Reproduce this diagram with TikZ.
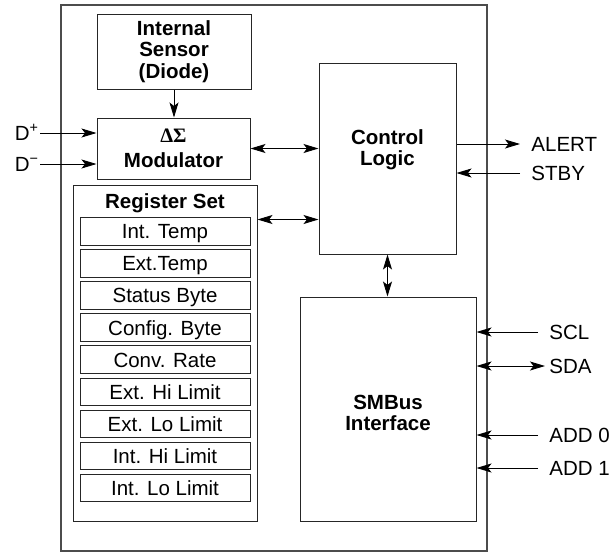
\documentclass[tikz,border=0pt]{standalone}
\usepackage{fontspec}
\setmainfont{Liberation Sans}
\newfontfamily\deltafont{Liberation Serif}
\usetikzlibrary{positioning,arrows.meta}
\newcommand\sigfont{\fontsize{20.5}{21.5}\selectfont}
\tikzset{
  block/.style={draw=black!85, line width=1pt, font=\sigfont\bfseries, align=center, inner sep=0pt},
  regbox/.style={draw=black!85, line width=1pt, minimum width=170pt, minimum height=27.5pt, inner sep=0pt, text height=14.7pt, text depth=0pt},
  sig/.style={font=\sigfont, inner ysep=0pt, inner xsep=11pt, text height=14.7pt, text depth=0pt},
  >={Stealth[length=15pt,width=9pt,inset=3.5pt]}
}
\begin{document}
\begin{tikzpicture}[x=1pt, y=-1pt, line width=0.9pt, font=\sigfont]
            \useasboundingbox (0,0) rectangle (614,552);
            \node[draw=black!70, line width=1.3pt, minimum width=426pt, minimum height=546pt, inner sep=0pt] (chip) at (274,278) {};

            \node[block, minimum width=154pt, minimum height=75pt] (sensor) at (174,51.5) {Internal\\Sensor\\(Diode)};
            \node[block, minimum width=153pt, minimum height=61pt] (mod) at (173.5,148.5) {{\deltafont\bfseries ΔΣ}\\[4pt]Modulator};
            \node[block, minimum width=137pt, minimum height=191pt,
                  label={[name=ctrltext, font=\sigfont\bfseries, align=center, yshift=9pt]center:Control\\Logic}] (ctrl) at (387.5,158.5) {};
            \node[block, minimum width=176pt, minimum height=224pt,
                  label={[name=smbustext, font=\sigfont\bfseries, align=center, yshift=-4pt]center:SMBus\\Interface}] (smbus) at (388,409) {};

            \node[draw=black!85, line width=1pt, minimum width=184pt, minimum height=336pt] (regs) at (165,353) {};
            \node[below=8.4pt of regs.north, font=\sigfont\bfseries, inner sep=0pt, text height=14.7pt, text depth=0pt] (regtitle) {Register Set};
            \foreach \name [count=\i] in {Int. Temp, Ext.Temp, Status Byte, Config. Byte, Conv. Rate, Ext. Hi Limit, Ext. Lo Limit, Int. Hi Limit, Int. Lo Limit}
                \node[regbox] (r\i) at (165, 199.45+32.05*\i) {\name};
            \coordinate (regport) at ([yshift=-35pt]regs.north east);

            \node[sig, anchor=east, inner xsep=1pt] (dp) at (40,133) {D\textsuperscript{+}};
            \node[sig, anchor=east, inner xsep=1pt] (dm) at (40,164) {D\textsuperscript{−}};
            \node[sig, anchor=west] (alert) at (520,144) {ALERT};
            \node[sig, anchor=west] (stby) at (520,173) {STBY};
            \node[sig, anchor=west] (scl) at (538,332) {SCL};
            \node[sig, anchor=west, inner xsep=4pt] (sda) at (545,366) {SDA};
            \node[sig, anchor=west] (add0) at (538,435) {ADD 0};
            \node[sig, anchor=west] (add1) at (538,468) {ADD 1};

            \draw[->] (sensor.south) -- (sensor.south |- mod.north);
            \draw[->] (dp.east) -- (dp -| mod.west);
            \draw[->] (dm.east) -- (dm -| mod.west);
            \draw[<->] (mod.east) -- (mod.east -| ctrl.west);
            \draw[<->] (regport) -- (regport -| ctrl.west);
            \draw[->] (alert -| ctrl.east) -- (alert.west);
            \draw[->] (stby.west) -- (stby -| ctrl.east);
            \draw[<->] (ctrl.south) -- (ctrl.south |- smbus.north);
            \draw[->] (scl.west) -- (scl -| smbus.east);
            \draw[<->] (sda.west) -- (sda -| smbus.east);
            \draw[->] (add0.west) -- (add0 -| smbus.east);
            \draw[->] (add1.west) -- (add1 -| smbus.east);
\end{tikzpicture}
\end{document}
